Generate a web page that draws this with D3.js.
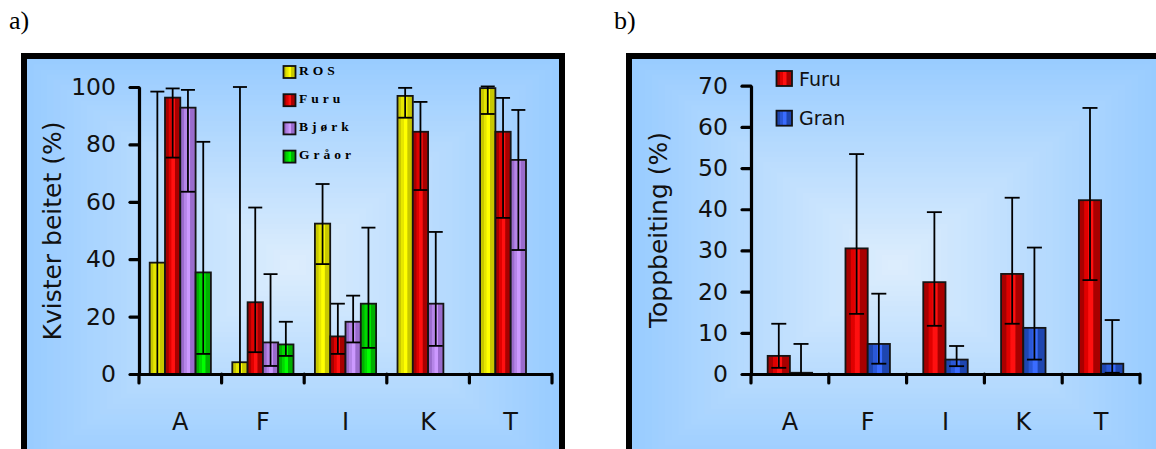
<!DOCTYPE html>
<html>
<head>
<meta charset="utf-8">
<script src="https://cdn.jsdelivr.net/npm/d3@7"></script>
<style>
  html, body { margin: 0; padding: 0; background: #fff; }
  svg { display: block; }
</style>
</head>
<body>
<svg id="chart" width="1156" height="449"></svg>
<script>
// ---- data ------------------------------------------------------------
const categories = ["A", "F", "I", "K", "T"];

// panel a: share of twigs browsed (%), mean with lower/upper error limits
const seriesA = ["ROS", "Furu", "Bjørk", "Gråor"];
const ros      = [38.8, 4.1, 52.4, 96.9, 99.6];
const rosHi    = [98.4, 100, 66.2, 99.7, 100.2];
const rosLo    = [0, 0, 38.3, 89.3, 90.6];
const furuA    = [96.3, 25.0, 13.1, 84.4, 84.4];
const furuAHi  = [99.5, 58.0, 24.5, 94.8, 96.2];
const furuALo  = [75.4, 7.6, 7.0, 64.1, 54.4];
const bjork    = [92.8, 11.0, 18.2, 24.5, 74.6];
const bjorkHi  = [99.0, 34.8, 27.3, 49.5, 92.0];
const bjorkLo  = [63.5, 2.8, 11.0, 9.8, 43.2];
const graor    = [35.4, 10.3, 24.5, null, null];
const graorHi  = [80.9, 18.2, 51.0, null, null];
const graorLo  = [7.0, 6.3, 9.1, null, null];
const ticksA   = [0, 20, 40, 60, 80, 100];

// panel b: top browsing (%)
const seriesB = ["Furu", "Gran"];
const furuB    = [4.4, 30.5, 22.3, 24.3, 42.2];
const furuBHi  = [12.2, 53.4, 39.3, 42.8, 64.6];
const furuBLo  = [1.5, 14.6, 11.7, 12.2, 22.8];
const gran     = [0.3, 7.3, 3.5, 11.2, 2.5];
const granHi   = [7.3, 19.5, 6.8, 30.7, 13.1];
const granLo   = [0, 2.5, 1.9, 3.5, 0.3];
const ticksB   = [0, 10, 20, 30, 40, 50, 60, 70];

// ---- styles ----------------------------------------------------------
const fills = {
  yellow: { dark: "#c8c800", mid: "#e6e600", bright: "#ffff00" },
  red:    { dark: "#a80000", mid: "#e00000", bright: "#ff1010" },
  purple: { dark: "#9a6ccc", mid: "#b585e8", bright: "#cc99ff" },
  green:  { dark: "#00b000", mid: "#00d800", bright: "#00ff00" },
  blue:   { dark: "#1e46b0", mid: "#2a58d8", bright: "#3a6cff" }
};
const colorsA = ["yellow", "red", "purple", "green"];
const colorsB = ["red", "blue"];
const FONT = "'DejaVu Sans', Verdana, sans-serif";

const svg = d3.select("#chart");
const defs = svg.append("defs");

// shaded column fills: dark edge, lighter stripe, dark edge
Object.entries(fills).forEach(([name, c]) => {
  const g = defs.append("linearGradient").attr("id", "fill-" + name)
    .attr("x1", 0).attr("x2", 1).attr("y1", 0).attr("y2", 0);
  [[0, c.dark], [0.22, c.dark], [0.26, c.mid], [0.4, c.mid], [0.44, c.bright],
   [0.62, c.bright], [0.67, c.dark], [1, c.dark]]
    .forEach(([o, col]) => g.append("stop").attr("offset", o).attr("stop-color", col));
});

// framed plot background with a rectangular centre-out shading
function frame(x0, y0, x1, y1, cx, cy, hx, hy) {
  const g = svg.append("g");
  const clipId = "clip" + Math.round(x0);
  defs.append("clipPath").attr("id", clipId)
    .append("rect").attr("x", x0).attr("y", y0).attr("width", x1 - x0).attr("height", y1 - y0);
  const steps = 40;
  const col = d3.interpolateRgb("#99ccff", "#deeefd");
  g.append("g").attr("clip-path", `url(#${clipId})`)
    .selectAll("rect").data(d3.range(steps + 1)).join("rect")
    .attr("x", i => cx - hx * (1 - i / steps) - (i === 0 ? 400 : 0))
    .attr("y", i => cy - hy * (1 - i / steps) - (i === 0 ? 400 : 0))
    .attr("width", i => 2 * hx * (1 - i / steps) + (i === 0 ? 800 : 0))
    .attr("height", i => 2 * hy * (1 - i / steps) + (i === 0 ? 800 : 0))
    .attr("fill", i => col(i / steps));
  g.append("rect").attr("x", x0 - 3).attr("y", y0 - 3)
    .attr("width", x1 - x0 + 6).attr("height", y1 - y0 + 6)
    .attr("fill", "none").attr("stroke", "#000").attr("stroke-width", 6);
}

// one bar panel
function panel(cfg) {
  const g = svg.append("g");
  const x = d3.scaleBand().domain(categories).range([cfg.x0, cfg.x1]).padding(0);
  const inner = d3.scaleBand().domain(cfg.series).range([0, x.bandwidth()])
    .paddingInner(0).paddingOuter(cfg.outer);
  const y = d3.scaleLinear().domain([0, cfg.max]).range([cfg.yBase, cfg.yTop]);

  // bars
  const rows = [];
  cfg.series.forEach((s, si) => {
    categories.forEach((c, ci) => {
      const v = cfg.values[si][ci];
      if (v == null) return;
      rows.push({ s, c, v, hi: cfg.hi[si][ci], lo: cfg.lo[si][ci], color: cfg.colors[si] });
    });
  });
  g.append("g").selectAll("rect").data(rows).join("rect")
    .attr("x", d => x(d.c) + inner(d.s))
    .attr("y", d => y(d.v))
    .attr("width", inner.bandwidth())
    .attr("height", d => y(0) - y(d.v))
    .attr("fill", d => `url(#fill-${d.color})`)
    .attr("stroke", "#151515").attr("stroke-width", 1.8);

  // error bars
  const eb = g.append("g").attr("stroke", "#000").attr("stroke-width", 1.8).attr("fill", "none");
  const cx = d => x(d.c) + inner(d.s) + inner.bandwidth() / 2;
  eb.selectAll("line.v").data(rows).join("line").attr("class", "v")
    .attr("x1", cx).attr("x2", cx).attr("y1", d => y(d.hi)).attr("y2", d => y(d.lo));
  ["hi", "lo"].forEach(k => {
    eb.selectAll("line." + k).data(rows).join("line").attr("class", k)
      .attr("x1", d => cx(d) - cfg.cap / 2).attr("x2", d => cx(d) + cfg.cap / 2)
      .attr("y1", d => y(d[k])).attr("y2", d => y(d[k]));
  });

  // y axis
  const ya = g.append("g").attr("transform", `translate(${cfg.x0},0)`)
    .call(d3.axisLeft(y).tickValues(cfg.ticks).tickSize(9).tickSizeOuter(0).tickPadding(14));
  ya.select(".domain").attr("stroke-width", 3.2);
  ya.selectAll(".tick line").attr("stroke-width", 3.2).attr("stroke-linecap", "round");
  ya.selectAll(".tick text").attr("font-family", FONT).attr("font-size", 23.5).attr("fill", "#111");

  // x axis: boundary ticks and centred category labels
  const xa = g.append("g").attr("transform", `translate(0,${cfg.yBase})`)
    .call(d3.axisBottom(x).tickSize(0).tickPadding(39));
  xa.select(".domain").attr("stroke-width", 3.2);
  xa.selectAll(".tick text").attr("font-family", FONT).attr("font-size", 24).attr("fill", "#111");
  const bounds = categories.map(c => x(c)).concat([cfg.x1]);
  xa.append("g").selectAll("line").data(bounds).join("line")
    .attr("x1", d => d).attr("x2", d => d).attr("y1", 0).attr("y2", 9)
    .attr("stroke", "#000").attr("stroke-width", 3.2).attr("stroke-linecap", "round");

  // y axis title
  g.append("text")
    .attr("transform", `translate(${cfg.titleX},${cfg.titleY}) rotate(-90)`)
    .attr("text-anchor", "middle").attr("dominant-baseline", "central")
    .attr("font-family", FONT).attr("font-size", 25).attr("fill", "#111")
    .text(cfg.title);
  return g;
}

// ---- panel a ---------------------------------------------------------
frame(27, 59, 559, 470, 293, 265, 266, 206);
panel({
  x0: 139, x1: 552, yBase: 374, yTop: 87, max: 100,
  series: seriesA, colors: colorsA, outer: 0.7, cap: 14,
  values: [ros, furuA, bjork, graor],
  hi: [rosHi, furuAHi, bjorkHi, graorHi],
  lo: [rosLo, furuALo, bjorkLo, graorLo],
  ticks: ticksA, title: "Kvister beitet (%)", titleX: 52, titleY: 231
});

// legend a
const legA = svg.append("g");
seriesA.forEach((s, i) => {
  const cy = 72 + i * 28.2;
  legA.append("rect").attr("x", 283.5).attr("y", cy - 6).attr("width", 12).attr("height", 12)
    .attr("fill", `url(#fill-${colorsA[i]})`).attr("stroke", "#111").attr("stroke-width", 1.8);
  legA.append("text").attr("x", 299).attr("y", cy + 2.5)
    .attr("font-family", "'Liberation Serif', serif").attr("font-weight", "bold")
    .attr("font-size", 13.5).attr("letter-spacing", 4).attr("fill", "#000").text(s);
});

// ---- panel b ---------------------------------------------------------
frame(632, 59, 1200, 470, 895, 265, 263, 206);
panel({
  x0: 751, x1: 1140, yBase: 374, yTop: 85.7, max: 70,
  series: seriesB, colors: colorsB, outer: 0.75, cap: 15,
  values: [furuB, gran],
  hi: [furuBHi, granHi],
  lo: [furuBLo, granLo],
  ticks: ticksB, title: "Toppbeiting (%)", titleX: 658, titleY: 230
});

// legend b
const legB = svg.append("g");
seriesB.forEach((s, i) => {
  const cy = 78.5 + i * 39.7;
  legB.append("rect").attr("x", 776.5).attr("y", cy - 7.5).attr("width", 15.5).attr("height", 15)
    .attr("fill", `url(#fill-${colorsB[i]})`).attr("stroke", "#111").attr("stroke-width", 1.8);
  legB.append("text").attr("x", 799).attr("y", cy + 7)
    .attr("font-family", FONT).attr("font-size", 19).attr("fill", "#111").text(s);
});

// panel letters
svg.append("text").attr("x", 9).attr("y", 29)
  .attr("font-family", "'Liberation Serif', 'Times New Roman', serif").attr("font-size", 26)
  .text("a)");
svg.append("text").attr("x", 614).attr("y", 29)
  .attr("font-family", "'Liberation Serif', 'Times New Roman', serif").attr("font-size", 26)
  .text("b)");
</script>
</body>
</html>
